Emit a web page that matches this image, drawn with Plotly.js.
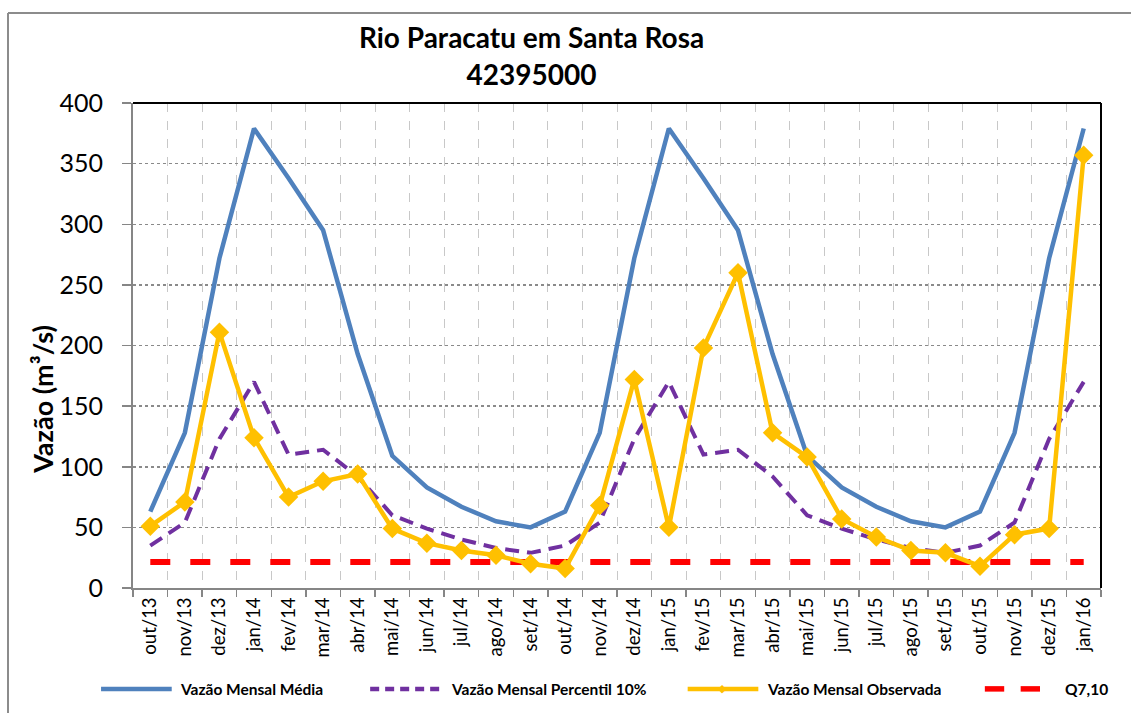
<!DOCTYPE html>
<html>
<head>
<meta charset="utf-8">
<script src="https://cdn.plot.ly/plotly-3.0.1.min.js"></script>
<style>
  html, body { margin: 0; padding: 0; background: #fff; overflow: hidden; }
  #chart { width: 1131px; height: 713px; }
</style>
</head>
<body>
<div id="chart"></div>
<script>
const months = ["out/13","nov/13","dez/13","jan/14","fev/14","mar/14","abr/14","mai/14","jun/14","jul/14","ago/14","set/14",
                "out/14","nov/14","dez/14","jan/15","fev/15","mar/15","abr/15","mai/15","jun/15","jul/15","ago/15","set/15",
                "out/15","nov/15","dez/15","jan/16"];
const vazaoMedia = [63,128,272,379,338,295,193,109,83,67,55,50,
                    63,128,272,379,338,295,193,109,83,67,55,50,
                    63,128,272,379];
const vazaoPercentil10 = [35,54,123,170,110,114,92,60,49,40,33,29,
                          35,54,123,170,110,114,92,60,49,40,33,29,
                          35,54,123,170];
const vazaoObservada = [51,71,211,124,75,88,94,49,37,31,27,20,
                        16,68,172,50,198,260,128,108,57,42,31,29,
                        18,44,49,357];
const q710 = [21.5,21.5,21.5,21.5,21.5,21.5,21.5,21.5,21.5,21.5,21.5,21.5,
              21.5,21.5,21.5,21.5,21.5,21.5,21.5,21.5,21.5,21.5,21.5,21.5,
              21.5,21.5,21.5,21.5];
const seriesNames = ["Vazão Mensal Média","Vazão Mensal Percentil 10%","Vazão Mensal Observada","Q7,10"];
const yTicks = [0,50,100,150,200,250,300,350,400];

const BLUE = "#4F81BD", PURPLE = "#7030A0", YELLOW = "#FFC000", RED = "#FF0000";
const FONT = "Lato, 'Open Sans', sans-serif";

const traces = [
  {x: months, y: q710, name: seriesNames[3], type: "scatter", mode: "lines",
   line: {color: RED, width: 6, dash: "20px,20px"}},
  {x: months, y: vazaoMedia, name: seriesNames[0], type: "scatter", mode: "lines",
   line: {color: BLUE, width: 4.5}},
  {x: months, y: vazaoPercentil10, name: seriesNames[1], type: "scatter", mode: "lines",
   line: {color: PURPLE, width: 4, dash: "14px,8px"}},
  {x: months, y: vazaoObservada, name: seriesNames[2], type: "scatter", mode: "lines+markers",
   line: {color: YELLOW, width: 4.5},
   marker: {symbol: "diamond", size: 15, color: YELLOW}}
];

// plot area in pixels: x 133..1101, y 103..588 -> paper conversion
const PX = px => (px - 133) / 968;
const PY = py => (588 - py) / 485;

const ly = -0.208;
const shapes = [
  // outer chart frame (left and top edges)
  {type:"line", xref:"paper", yref:"paper", x0:PX(8), x1:PX(1140), y0:PY(13), y1:PY(13), line:{color:"#8c8c8c", width:2}},
  {type:"line", xref:"paper", yref:"paper", x0:PX(8), x1:PX(8), y0:PY(13), y1:PY(720), line:{color:"#8c8c8c", width:2}},
  // custom legend keys
  {type:"line", xref:"paper", yref:"paper", x0:-0.033, x1:0.040, y0:ly, y1:ly, line:{color:BLUE, width:4.5}},
  {type:"line", xref:"paper", yref:"paper", x0:0.245, x1:0.319, y0:ly, y1:ly, line:{color:PURPLE, width:4.5, dash:"9px,6px"}},
  {type:"line", xref:"paper", yref:"paper", x0:0.573, x1:0.646, y0:ly, y1:ly, line:{color:YELLOW, width:4.5}},
  {type:"line", xref:"paper", yref:"paper", x0:0.880, x1:0.900, y0:ly, y1:ly, line:{color:RED, width:5.5}},
  {type:"line", xref:"paper", yref:"paper", x0:0.917, x1:0.937, y0:ly, y1:ly, line:{color:RED, width:5.5}},
  // plot border top/right
  {type:"line", xref:"paper", yref:"paper", x0:0, x1:1, y0:1, y1:1, line:{color:"#000", width:2}},
  {type:"line", xref:"paper", yref:"paper", x0:1, x1:1, y0:0, y1:1, line:{color:"#000", width:2}}
];

const lfont = {family: FONT, size: 15.5, color: "#000"};
const annotations = [
  {text: "<b>" + seriesNames[0] + "</b>", x: 0.0465, y: ly, xref:"paper", yref:"paper", xanchor:"left", yanchor:"middle", showarrow:false, font: lfont},
  {text: "<b>" + seriesNames[1] + "</b>", x: 0.326, y: ly, xref:"paper", yref:"paper", xanchor:"left", yanchor:"middle", showarrow:false, font: lfont},
  {text: "<b>" + seriesNames[2] + "</b>", x: 0.653, y: ly, xref:"paper", yref:"paper", xanchor:"left", yanchor:"middle", showarrow:false, font: lfont},
  {text: "<b>" + seriesNames[3] + "</b>", x: 0.961, y: ly, xref:"paper", yref:"paper", xanchor:"left", yanchor:"middle", showarrow:false, font: lfont},
  {text: "<b>Vazão (m³/s)</b>", x: -0.093, y: 0.39, xref:"paper", yref:"paper", xanchor:"center", yanchor:"middle",
   textangle: -90, showarrow:false, font: {family: FONT, size: 27, color: "#000"}},
  {text: "◆", x: 0.6095, y: ly, xref:"paper", yref:"paper", xanchor:"center", yanchor:"middle", showarrow:false,
   font: {family: "DejaVu Sans", size: 11, color: YELLOW}}
];

const layout = {
  width: 1131, height: 713,
  paper_bgcolor: "#fff", plot_bgcolor: "#fff",
  margin: {l: 133, r: 30, t: 103, b: 125, pad: 0},
  showlegend: false,
  title: {text: "<b>Rio Paracatu em Santa Rosa<br>42395000</b>", x: 0.47, xanchor: "center",
          y: 0.932, yanchor: "middle", yref: "container",
          font: {family: FONT, size: 28, color: "#000"}},
  xaxis: {type: "category", tickson: "boundaries", ticks: "outside", ticklen: 7, tickcolor: "#868686", tickwidth: 1.5,
          showline: true, linecolor: "#868686", linewidth: 2,
          showgrid: true, gridcolor: "#c8c8c8", griddash: "dash", gridwidth: 1,
          tickangle: -90, tickfont: {family: FONT, size: 18.5, color: "#000"},
          range: [-0.5, 27.5], fixedrange: true},
  yaxis: {range: [0, 400], tickvals: yTicks, ticks: "outside", ticklen: 9, tickcolor: "#868686", tickwidth: 1.5,
          showline: true, linecolor: "#868686", linewidth: 2, ticklabelstandoff: 14,
          showgrid: true, gridcolor: "#8a8a8a", griddash: "dot", gridwidth: 1.5,
          zeroline: false, tickfont: {family: FONT, size: 25, color: "#000"}, fixedrange: true},
  shapes: shapes,
  annotations: annotations
};

Plotly.newPlot("chart", traces, layout, {displayModeBar: false, staticPlot: true});
</script>
</body>
</html>
